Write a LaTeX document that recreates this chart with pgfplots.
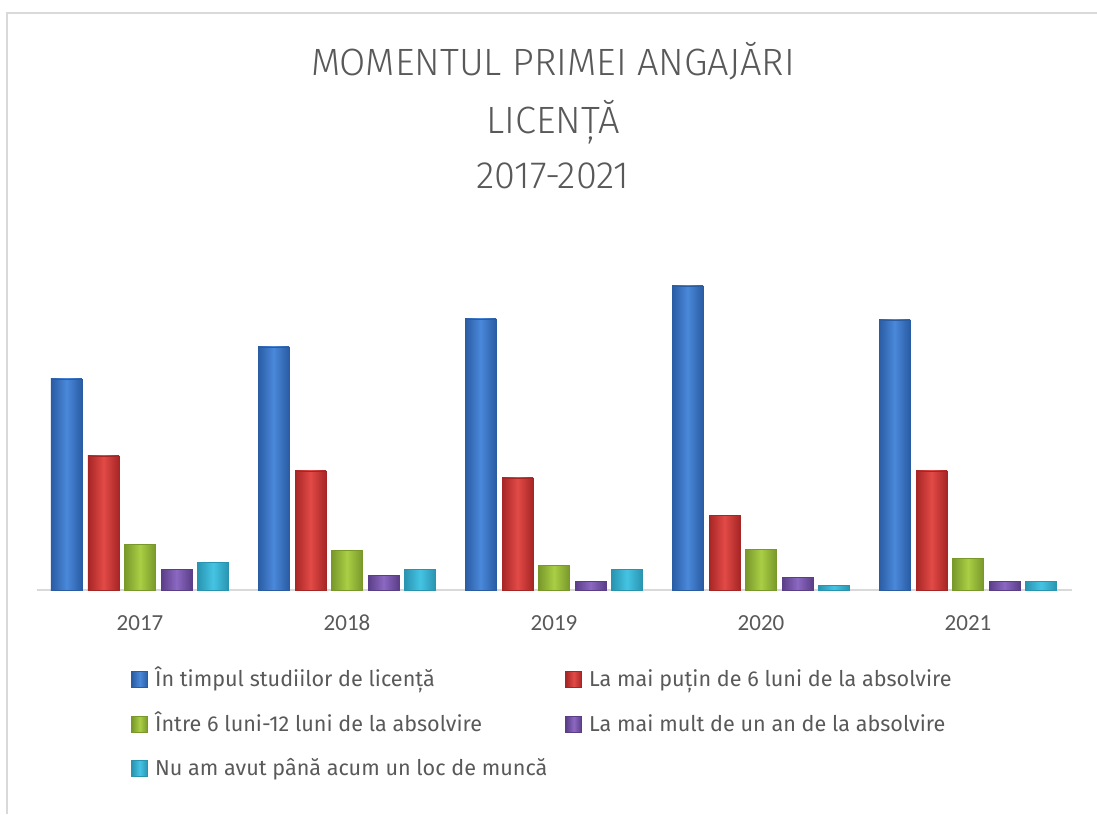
\documentclass[border=0pt]{standalone}
\usepackage{fontspec}
\setmainfont{Fira Sans}
\newfontfamily\titlefont{Fira Sans Light}
\newfontfamily\tickfont{Carlito}
\usepackage{pgfplots}
\pgfplotsset{compat=1.18}
\definecolor{textgray}{HTML}{595959}
\definecolor{axisgray}{HTML}{D9D9D9}
\definecolor{blueE}{HTML}{2A5CA4}\definecolor{blueM}{HTML}{4A88DA}
\definecolor{redE}{HTML}{A62626}\definecolor{redM}{HTML}{E24A46}
\definecolor{greenE}{HTML}{78982A}\definecolor{greenM}{HTML}{AACE44}
\definecolor{purpleE}{HTML}{5A3E88}\definecolor{purpleM}{HTML}{8C68C2}
\definecolor{cyanE}{HTML}{2894B0}\definecolor{cyanM}{HTML}{46C4E4}
\pgfplotsset{
  sblue/.style={ybar, bar shift=-36.75pt, draw=blueE, line width=0.4pt, left color=blueE, right color=blueE, middle color=blueM},
  sred/.style={ybar, bar shift=-18.25pt, draw=redE, line width=0.4pt, left color=redE, right color=redE, middle color=redM},
  sgreen/.style={ybar, bar shift=0pt, draw=greenE, line width=0.4pt, left color=greenE, right color=greenE, middle color=greenM},
  spurple/.style={ybar, bar shift=18.25pt, draw=purpleE, line width=0.4pt, left color=purpleE, right color=purpleE, middle color=purpleM},
  scyan/.style={ybar, bar shift=36.5pt, draw=cyanE, line width=0.4pt, left color=cyanE, right color=cyanE, middle color=cyanM},
}
\begin{document}
\begin{tikzpicture}[x=1pt,y=1pt]
% frame
\draw[axisgray, line width=0.8pt] (3.5pt,0pt) -- (3.5pt,400.5pt) -- (548.5pt,400.5pt);
% title
\node[anchor=base, text=textgray, font=\titlefont\fontsize{19}{22}\selectfont] at (276.5pt,369pt) {MOMENTUL PRIMEI ANGAJĂRI};
\node[anchor=base, text=textgray, font=\titlefont\fontsize{19}{22}\selectfont] at (276.5pt,340pt) {LICENȚĂ};
\node[anchor=base, text=textgray, font=\titlefont\fontsize{19}{22}\selectfont] at (276.5pt,312.5pt) {2017-2021};
\begin{axis}[
  at={(18.25pt,112pt)}, anchor=south west,
  width=517.5pt, height=170pt, scale only axis,
  xmin=-0.5, xmax=4.5, ymin=0, ymax=340,
  axis lines*=left,
  y axis line style={draw=none},
  x axis line style={draw=axisgray, line width=1.2pt},
  ytick=\empty,
  xtick={0,1,2,3,4}, xticklabels={2017,2018,2019,2020,2021},
  major tick length=0pt,
  xticklabel style={anchor=base, yshift=-20pt, text=textgray, font=\tickfont\fontsize{11.5}{13}\selectfont},
  clip=false,
  bar width=15.5pt,
  legend columns=2,
  legend style={at={(0.0913,-0.238)}, anchor=north west, draw=none, fill=none, inner sep=0pt,
    font=\fontsize{10.8}{12}\selectfont, text=textgray,
    nodes={inner sep=0pt, text height=7.5pt, text depth=2pt, anchor=base west},
    row sep=12.5pt},
  legend cell align=left,
  /tikz/every odd column/.append style={column sep=3.5pt},
  /tikz/column 2/.append style={column sep=9pt},
  legend image code/.code={\draw[#1] (0pt,-0.5pt) rectangle (8pt,7.5pt);},
]
\addplot[sblue] coordinates {(0,211)};
\addplot[sred] coordinates {(0,134)};
\addplot[sgreen] coordinates {(0,46)};
\addplot[spurple] coordinates {(0,21)};
\addplot[scyan] coordinates {(0,28)};
\addplot[sblue, forget plot] coordinates {(1,243)};
\addplot[sblue, forget plot] coordinates {(2,271)};
\addplot[sblue, forget plot] coordinates {(3,304)};
\addplot[sblue, forget plot] coordinates {(4,270)};
\addplot[sred, forget plot] coordinates {(1,119)};
\addplot[sred, forget plot] coordinates {(2,112)};
\addplot[sred, forget plot] coordinates {(3,75)};
\addplot[sred, forget plot] coordinates {(4,119)};
\addplot[sgreen, forget plot] coordinates {(1,40)};
\addplot[sgreen, forget plot] coordinates {(2,25)};
\addplot[sgreen, forget plot] coordinates {(3,41)};
\addplot[sgreen, forget plot] coordinates {(4,32)};
\addplot[spurple, forget plot] coordinates {(1,15)};
\addplot[spurple, forget plot] coordinates {(2,9)};
\addplot[spurple, forget plot] coordinates {(3,13)};
\addplot[spurple, forget plot] coordinates {(4,9)};
\addplot[scyan, forget plot] coordinates {(1,21)};
\addplot[scyan, forget plot] coordinates {(2,21)};
\addplot[scyan, forget plot] coordinates {(3,5)};
\addplot[scyan, forget plot] coordinates {(4,9)};
\legend{În timpul studiilor de licență, La mai puțin de 6 luni de la absolvire, Între 6 luni-12 luni de la absolvire, La mai mult de un an de la absolvire, Nu am avut până acum un loc de muncă}
\end{axis}
\pgfresetboundingbox
\path[use as bounding box] (0pt,0pt) rectangle (548.5pt,407pt);
\end{tikzpicture}
\end{document}
